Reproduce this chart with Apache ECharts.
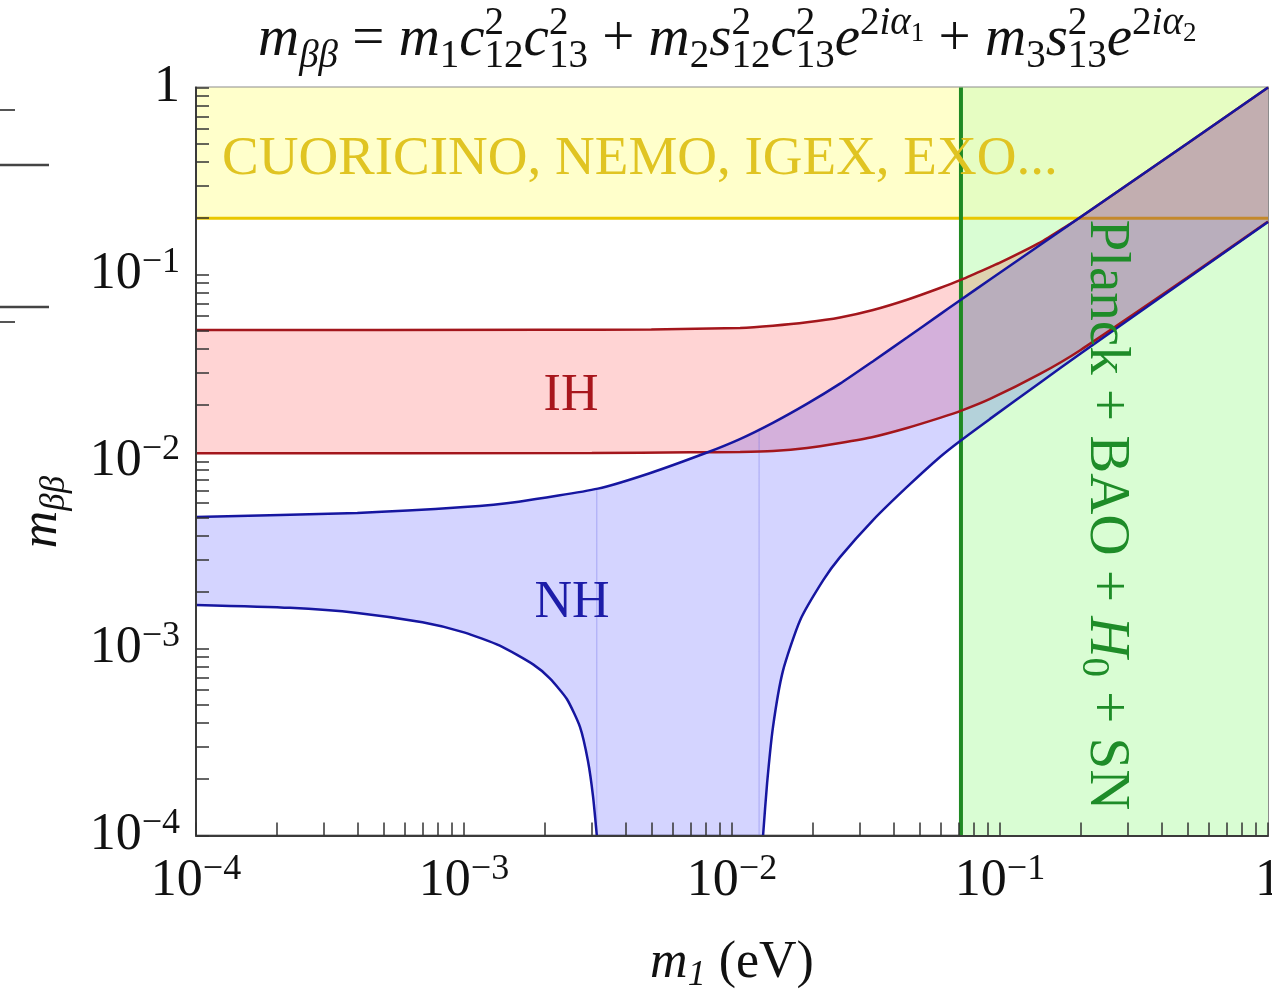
<!DOCTYPE html>
<html>
<head>
<meta charset="utf-8">
<script src="https://cdn.jsdelivr.net/npm/echarts@6/dist/echarts.min.js"></script>
<style>
html, body { margin: 0; padding: 0; background: #fff; }
#chart { width: 1272px; height: 992px; }
</style>
</head>
<body>
<div id="chart"></div>
<script>
// m1 (eV) -> m_bb (eV)
var nhUpper = [
    [1e-4, 0.00505], [4e-4, 0.00531], [1e-3, 0.00571], [1.6e-3, 0.0061],
    [3.16e-3, 0.00716], [4.9e-3, 0.00863], [8.07e-3, 0.01117], [0.0107, 0.01318],
    [0.0142, 0.0161], [0.0191, 0.0204], [0.0253, 0.0261], [0.0336, 0.0344],
    [0.045, 0.046], [0.0597, 0.0612], [0.0697, 0.0715], [0.0918, 0.094],
    [0.2, 0.2028], [0.5, 0.502], [1, 1]
];
var nhLowerLeft = [
    [1e-4, 0.00171], [2.24e-4, 0.00165], [4e-4, 0.00155], [7e-4, 0.00138],
    [1e-3, 0.00122], [1.36e-3, 0.001035], [1.81e-3, 8.22e-4], [2.09e-3, 6.92e-4],
    [2.42e-3, 5.37e-4], [2.71e-3, 3.8e-4], [2.9e-3, 2.51e-4], [3.03e-3, 1.62e-4],
    [3.13e-3, 1e-4]
];
var nhLowerRight = [
    [0.01306, 1e-4], [0.01352, 1.905e-4], [0.01422, 3.8e-4], [0.01549, 7.59e-4],
    [0.01794, 1.413e-3], [0.0219, 2.32e-3], [0.0253, 3.08e-3], [0.0336, 4.86e-3],
    [0.045, 7.31e-3], [0.0597, 0.01057], [0.071, 0.01288], [0.0918, 0.0169],
    [0.141, 0.0264], [0.2, 0.0378], [0.5, 0.0953], [1, 0.191]
];
var ihUpper = [
    [1e-4, 0.0505], [2e-3, 0.0506], [5e-3, 0.0508], [0.01072, 0.0518],
    [0.01422, 0.0532], [0.01905, 0.0555], [0.0253, 0.0589], [0.0336, 0.0646],
    [0.045, 0.0733], [0.0597, 0.0847], [0.071, 0.0933], [0.0918, 0.1096],
    [0.1, 0.1156], [0.141, 0.148], [0.178, 0.182], [0.2, 0.2028], [0.3, 0.303],
    [0.5, 0.502], [1, 1]
];
var ihLower = [
    [1e-4, 0.01106], [3e-3, 0.0111], [7e-3, 0.01119], [0.01072, 0.01125],
    [0.01422, 0.01138], [0.01905, 0.0118], [0.0253, 0.01256], [0.0336, 0.01352],
    [0.045, 0.0151], [0.0597, 0.0171], [0.071, 0.01858], [0.0918, 0.0216],
    [0.141, 0.0294], [0.2, 0.0395], [0.5, 0.0962], [1, 0.192]
];
var expLimit = 0.2;        // CUORICINO, NEMO, IGEX, EXO bound on m_bb
var planckLimit = 0.0715;  // Planck + BAO + H0 + SN bound on m1
var seams = [[0.00313, 0.00716], [0.01262, 0.0150]];  // faint fill edges (x, top)
var decades = [1e-4, 1e-3, 1e-2, 1e-1, 1];
var minorSteps = [2, 3, 4, 5, 6, 7, 8, 9];

var axMin = 1e-4, axMax = 1;
var serif = 'Liberation Serif';
var ink = '#111';
var tickVals = [];
decades.forEach(function (d) {
    tickVals.push(d);
    if (d < axMax) minorSteps.forEach(function (m) { tickVals.push(d * m); });
});

function tickLabel(v) {
    var e = Math.round(Math.log10(v));
    if (e === 0) return '{a|1}';
    return '{a|10}{e|\u2212' + (-e) + '}';
}
var tickRich = {
    a: { fontFamily: serif, fontSize: 52, lineHeight: 60, color: ink },
    e: { fontFamily: serif, fontSize: 36, lineHeight: 36, verticalAlign: 'top', color: ink }
};

function poly(points, color, z) {
    return {
        type: 'custom', coordinateSystem: 'cartesian2d', silent: true, z: z,
        data: [points[0]],
        renderItem: function (params, api) {
            return {
                type: 'polygon',
                shape: { points: points.map(function (p) { return api.coord(p); }) },
                style: { fill: color }
            };
        }
    };
}
function curve(data, color, width, z) {
    return {
        type: 'line', data: data, showSymbol: false, silent: true, z: z,
        smooth: 0.2, lineStyle: { color: color, width: width }
    };
}

var nhBand = nhUpper.concat(nhLowerRight.slice().reverse(), nhLowerLeft.slice().reverse());
var ihBand = ihUpper.concat(ihLower.slice().reverse());
var yellowBox = [[axMin, expLimit], [planckLimit, expLimit], [planckLimit, axMax], [axMin, axMax]];
var greenBox = [[planckLimit, axMin], [axMax, axMin], [axMax, expLimit], [planckLimit, expLimit]];
var bothBox = [[planckLimit, expLimit], [axMax, expLimit], [axMax, axMax], [planckLimit, axMax]];

var series = [
    poly(yellowBox, '#ffffcb', 1),
    poly(greenBox, '#d9fdd3', 1),
    poly(bothBox, '#e6fdc2', 1),
    curve([[axMin, expLimit], [axMax, expLimit]], '#e9c700', 3, 2),
    poly(ihBand, 'rgba(255,0,0,0.17)', 3),
    poly(nhBand, 'rgba(0,0,255,0.17)', 3),
    curve([[planckLimit, axMin], [planckLimit, axMax]], '#1f8a23', 4, 4),
    curve(ihUpper, '#a3161c', 2.5, 5),
    curve(ihLower, '#a3161c', 2.5, 5),
    curve(nhUpper, '#1616a0', 2.5, 6),
    curve(nhLowerLeft, '#1616a0', 2.5, 6),
    curve(nhLowerRight, '#1616a0', 2.5, 6)
];
seams.forEach(function (s) {
    series.push(curve([[s[0], axMin], [s[0], s[1]]], 'rgba(110,110,230,0.45)', 1, 4));
});

var titleRich = {
    i: { fontFamily: serif, fontStyle: 'italic', fontSize: 57, lineHeight: 80, fill: ink },
    r: { fontFamily: serif, fontSize: 57, lineHeight: 80, fill: ink },
    b: { fontFamily: serif, fontStyle: 'italic', fontSize: 39, height: 46, verticalAlign: 'bottom', fill: ink },
    s: { fontFamily: serif, fontSize: 39, height: 46, verticalAlign: 'bottom', fill: ink },
    p0: { fontFamily: serif, fontSize: 39, height: 48, verticalAlign: 'top', width: 0, fill: ink },
    p: { fontFamily: serif, fontSize: 39, height: 48, verticalAlign: 'top', fill: ink },
    pi: { fontFamily: serif, fontStyle: 'italic', fontSize: 39, height: 48, verticalAlign: 'top', fill: ink },
    q: { fontFamily: serif, fontSize: 27, height: 68, verticalAlign: 'top', fill: ink }
};
var titleText = '{i|m}{b|\u03b2\u03b2}{r| = }{i|m}{s|1}{i|c}{p0|2}{s|12}{i|c}{p0|2}{s|13}{r| + }' +
    '{i|m}{s|2}{i|s}{p0|2}{s|12}{i|c}{p0|2}{s|13}{i|e}{p|2}{pi|i\u03b1}{q|1}{r| + }' +
    '{i|m}{s|3}{i|s}{p0|2}{s|13}{i|e}{p|2}{pi|i\u03b1}{q|2}';

var green = '#1e8c28';
var chart = echarts.init(document.getElementById('chart'));
chart.setOption({
    animation: false,
    backgroundColor: '#fff',
    grid: {
        left: 196, top: 87.5, width: 1072, height: 748,
        show: true, borderColor: '#8c8c8c', borderWidth: 2,
        containLabel: false, outerBoundsMode: 'none'
    },
    xAxis: {
        type: 'log', logBase: 10, min: axMin, max: axMax, z: 10,
        splitLine: { show: false },
        axisLine: { lineStyle: { color: '#3a3a3a', width: 2 } },
        axisTick: { inside: true, length: 13, customValues: tickVals, lineStyle: { color: '#333', width: 1.5 } },
        minorTick: { show: false },
        axisLabel: { margin: 16, customValues: decades, formatter: tickLabel, rich: tickRich },
        name: '{i|m}{s|1}{r| (eV)}', nameLocation: 'middle', nameGap: 98,
        nameTextStyle: {
            rich: {
                i: { fontFamily: serif, fontStyle: 'italic', fontSize: 52, lineHeight: 60, color: ink },
                s: { fontFamily: serif, fontStyle: 'italic', fontSize: 36, lineHeight: 40, verticalAlign: 'bottom', color: ink },
                r: { fontFamily: serif, fontSize: 52, lineHeight: 60, color: ink }
            }
        }
    },
    yAxis: {
        type: 'log', logBase: 10, min: axMin, max: axMax, z: 10,
        splitLine: { show: false },
        axisLine: { lineStyle: { color: '#3a3a3a', width: 2 } },
        axisTick: { inside: true, length: 13, customValues: tickVals, lineStyle: { color: '#333', width: 1.5 } },
        minorTick: { show: false },
        axisLabel: { margin: 16, customValues: decades, formatter: tickLabel, rich: tickRich }
    },
    series: series,
    graphic: [
        { type: 'text', x: 258, y: 0, z: 20, style: { text: titleText, rich: titleRich } },
        { type: 'text', x: 222, y: 160, z: 20, style: {
            text: 'CUORICINO, NEMO, IGEX, EXO...', fontFamily: serif, fontSize: 55,
            fill: '#e0c422', verticalAlign: 'middle' } },
        { type: 'text', x: 571, y: 396, z: 20, style: {
            text: 'IH', fontFamily: serif, fontSize: 52, fill: '#a8161c', align: 'center', verticalAlign: 'middle' } },
        { type: 'text', x: 572, y: 603, z: 20, style: {
            text: 'NH', fontFamily: serif, fontSize: 52, fill: '#1c1ca8', align: 'center', verticalAlign: 'middle' } },
        { type: 'text', x: 1106, y: 515, z: 20, rotation: -Math.PI / 2, style: {
            text: '{r|Planck + BAO + }{i|H}{s|0}{r| + SN}', align: 'center', verticalAlign: 'middle',
            rich: {
                r: { fontFamily: serif, fontSize: 57, lineHeight: 64, fill: green },
                i: { fontFamily: serif, fontStyle: 'italic', fontSize: 57, lineHeight: 64, fill: green },
                s: { fontFamily: serif, fontSize: 39, lineHeight: 40, verticalAlign: 'bottom', fill: green }
            } } },
        { type: 'text', x: 42, y: 512, z: 20, rotation: Math.PI / 2, style: {
            text: '{i|m}{b|\u03b2\u03b2}', align: 'center', verticalAlign: 'middle',
            rich: {
                i: { fontFamily: serif, fontStyle: 'italic', fontSize: 52, lineHeight: 60, fill: ink },
                b: { fontFamily: serif, fontStyle: 'italic', fontSize: 35, lineHeight: 40, verticalAlign: 'bottom', fill: ink }
            } } },
        { type: 'line', z: 20, shape: { x1: 0, y1: 110, x2: 15, y2: 110 }, style: { stroke: '#555', lineWidth: 2 } },
        { type: 'line', z: 20, shape: { x1: 0, y1: 165, x2: 49, y2: 165 }, style: { stroke: '#444', lineWidth: 2.5 } },
        { type: 'line', z: 20, shape: { x1: 0, y1: 307, x2: 49, y2: 307 }, style: { stroke: '#444', lineWidth: 2.5 } },
        { type: 'line', z: 20, shape: { x1: 0, y1: 322, x2: 15, y2: 322 }, style: { stroke: '#555', lineWidth: 2 } }
    ]
});
</script>
</body>
</html>
